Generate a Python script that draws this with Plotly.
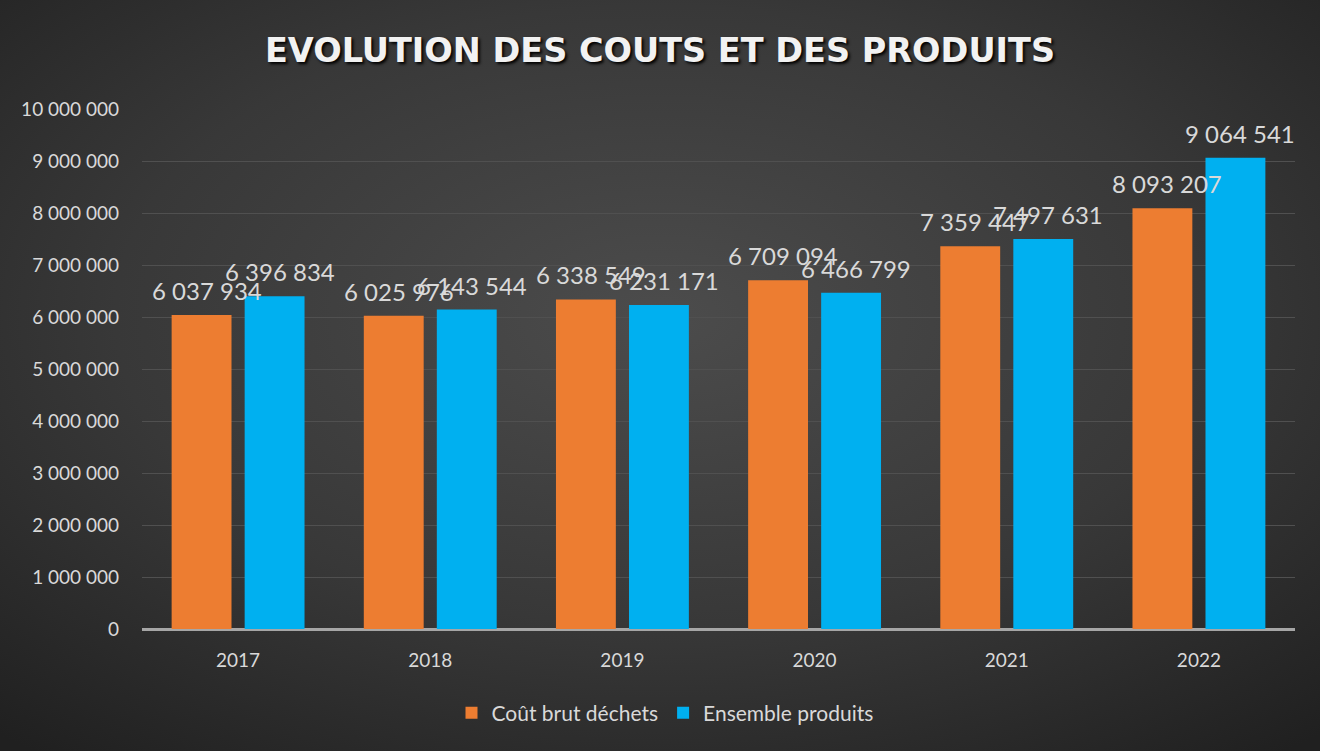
import base64
import plotly.graph_objects as go

years = ["2017", "2018", "2019", "2020", "2021", "2022"]
cout_brut = [6037934, 6025976, 6338549, 6709094, 7359447, 8093207]
ensemble_produits = [6396834, 6143544, 6231171, 6466799, 7497631, 9064541]
series_names = ["Coût brut déchets", "Ensemble produits"]
tick_values = [0, 1000000, 2000000, 3000000, 4000000, 5000000,
               6000000, 7000000, 8000000, 9000000, 10000000]
tick_labels = ["0", "1 000 000", "2 000 000", "3 000 000", "4 000 000", "5 000 000",
               "6 000 000", "7 000 000", "8 000 000", "9 000 000", "10 000 000"]

def fmt(v):
    return f"{v:,}".replace(",", " ")

ORANGE = "#ED7D31"
BLUE = "#00B0F0"
TXT = "#D9D9D9"
FONT = "Lato, 'Open Sans', sans-serif"

W, H = 1320, 751
PL, PR, PT, PB = 142, 25, 109, 122
pw, ph = W - PL - PR, H - PT - PB
BARGAP, GROUPGAP = 0.24, 0.18
slot_px = pw / len(years) * (1 - BARGAP) / 2

svg = """<svg xmlns='http://www.w3.org/2000/svg' width='1320' height='751'>
<defs><radialGradient id='g' cx='0.5' cy='0.42' r='0.75' gradientUnits='objectBoundingBox'>
<stop offset='0' stop-color='#4c4c4c'/><stop offset='0.55' stop-color='#383838'/><stop offset='1' stop-color='#202020'/>
</radialGradient></defs><rect width='1320' height='751' fill='url(#g)'/></svg>"""
bg_uri = "data:image/svg+xml;base64," + base64.b64encode(svg.encode()).decode()

fig = go.Figure()
annotations = []
for i, (vals, name, color) in enumerate([(cout_brut, series_names[0], ORANGE),
                                         (ensemble_produits, series_names[1], BLUE)]):
    fig.add_trace(go.Bar(
        x=years, y=vals, name=name, marker=dict(color=color, line=dict(width=0)),
    ))
    xshift = (i - 0.5) * slot_px + 5
    # category axis: annotation x given as the category's index
    for idx, v in enumerate(vals):
        annotations.append(dict(
            x=idx, y=v, xref="x", yref="y", text=fmt(v), showarrow=False,
            xanchor="center", yanchor="bottom", xshift=xshift, yshift=8,
            font=dict(family=FONT, size=24, color=TXT),
        ))

fig.update_layout(
    width=W, height=H,
    margin=dict(l=PL, r=PR, t=PT, b=PB),
    paper_bgcolor="#333333", plot_bgcolor="rgba(0,0,0,0)",
    barmode="group", bargap=BARGAP, bargroupgap=GROUPGAP,
    font=dict(family=FONT, color=TXT, size=19),
    title=dict(
        text="EVOLUTION DES COUTS ET DES PRODUITS",
        x=0.5, xanchor="center", y=1 - 50 / H, yanchor="middle",
        font=dict(family="DejaVu Sans", size=33.5, color="#F2F2F2", weight="bold",
                  shadow="2px 2px 3px #000000"),
    ),
    legend=dict(orientation="h", x=(665 - PL) / pw, xanchor="center",
                y=-(713 - (H - PB)) / ph, yanchor="middle",
                font=dict(size=21, color=TXT, family=FONT), bgcolor="rgba(0,0,0,0)",
                itemwidth=30, traceorder="normal"),
    images=[dict(source=bg_uri, xref="paper", yref="paper",
                 x=-PL / pw, y=1 + PT / ph, sizex=W / pw, sizey=H / ph,
                 xanchor="left", yanchor="top", layer="below", sizing="stretch")],
    annotations=annotations,
)

fig.update_xaxes(type="category", categoryorder="array", categoryarray=years,
                 range=[-0.5, len(years) - 0.5],
                 showgrid=False, ticks="", tickfont=dict(size=19, color=TXT),
                 ticklabelstandoff=18, showline=False)
fig.update_yaxes(range=[0, 10000000], tickvals=tick_values, ticktext=tick_labels,
                 showgrid=True, gridcolor="#505050", gridwidth=1,
                 zeroline=True, zerolinecolor="#A6A6A6", zerolinewidth=2.5,
                 tickfont=dict(size=19, color=TXT), ticklabelstandoff=22)

fig.write_html("out.html", config={"displayModeBar": False},
               post_script="document.body.style.margin='0';")
